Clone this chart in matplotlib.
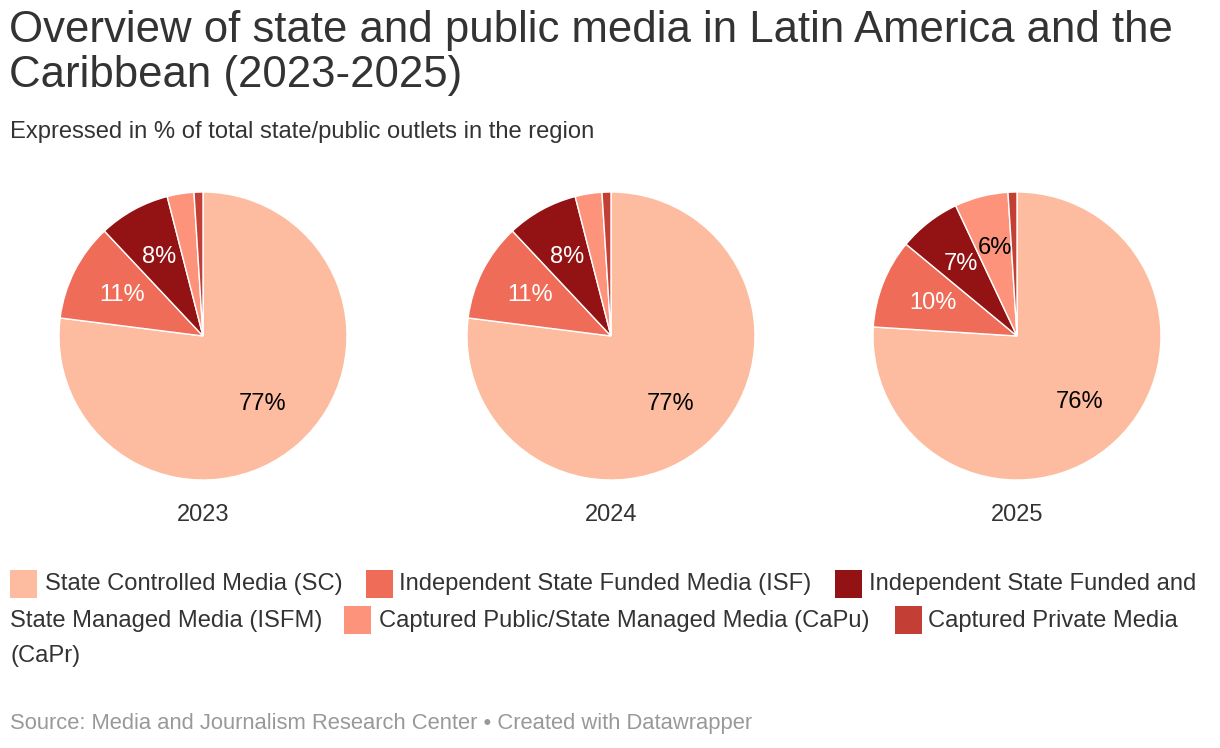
import matplotlib
matplotlib.use("Agg")
import matplotlib.pyplot as plt
from matplotlib.patches import Rectangle
import numpy as np

plt.rcParams['font.family'] = ['Liberation Sans', 'DejaVu Sans']

years = ["2023", "2024", "2025"]
categories = ["State Controlled Media (SC)",
              "Independent State Funded Media (ISF)",
              "Independent State Funded and State Managed Media (ISFM)",
              "Captured Public/State Managed Media (CaPu)",
              "Captured Private Media (CaPr)"]
values_2023 = [77, 11, 8, 3, 1]
values_2024 = [77, 11, 8, 3, 1]
values_2025 = [76, 10, 7, 6, 1]
all_values = [values_2023, values_2024, values_2025]

colors = ["#fdbc9f", "#ef6c58", "#931314", "#fd937a", "#c33f35"]
label_colors = ["#000000", "#ffffff", "#ffffff", "#000000", "#ffffff"]

W, H = 1220, 748
fig = plt.figure(figsize=(W / 100, H / 100), dpi=100)
fig.patch.set_facecolor("white")

def fx(x):
    return x / W

def fy(y):
    return 1 - y / H

# Title & subtitle
fig.text(fx(9), fy(42), "Overview of state and public media in Latin America and the",
         fontsize=31.5, color="#333333", va="baseline", ha="left")
fig.text(fx(9), fy(87), "Caribbean (2023-2025)",
         fontsize=31.5, color="#333333", va="baseline", ha="left")
fig.text(fx(10), fy(138), "Expressed in % of total state/public outlets in the region",
         fontsize=17.1, color="#333333", va="baseline", ha="left")

# Pies
centers = [203, 611, 1017]
cy = 336
r = 144
for cx, vals, yr in zip(centers, all_values, years):
    ax = fig.add_axes([fx(cx - r), fy(cy + r), 2 * r / W, 2 * r / H])
    wedges, _ = ax.pie(vals, colors=colors, startangle=90, counterclock=False,
                       radius=1.0,
                       wedgeprops=dict(edgecolor="white", linewidth=1.0))
    total = sum(vals)
    cum = 0
    for v, lc in zip(vals, label_colors):
        mid = cum + v / 2
        cum += v
        if v < 5:
            continue
        ang = np.deg2rad(90 - 360 * mid / total)
        d = 0.63
        ax.text(d * np.cos(ang), d * np.sin(ang), f"{v}%", color=lc,
                fontsize=17, ha="center", va="center")
    ax.set_xlim(-1, 1)
    ax.set_ylim(-1, 1)
    ax.set_aspect("equal")
    ax.axis("off")
    fig.text(fx(cx), fy(521), yr, fontsize=17, color="#333333",
             ha="center", va="baseline")

# Legend (flowing inline like the original)
legend_items = [
    # (square x, square top y, text x, text baseline y, text, colour index)
    (10, 570, 45, 590, categories[0], 0),
    (366, 570, 399, 590, categories[1], 1),
    (835, 570, 869, 590, "Independent State Funded and", 2),
    (None, None, 10, 627, "State Managed Media (ISFM)", None),
    (344, 606, 379, 627, categories[3], 3),
    (895, 606, 928, 627, "Captured Private Media", 4),
    (None, None, 10, 662, "(CaPr)", None),
]
for sx, sy, tx, ty, txt, ci in legend_items:
    if sx is not None:
        fig.patches.append(Rectangle((fx(sx), fy(sy + 28)), 27 / W, 28 / H,
                                     transform=fig.transFigure, facecolor=colors[ci],
                                     edgecolor="none"))
    fig.text(fx(tx), fy(ty), txt, fontsize=17.1, color="#333333",
             ha="left", va="baseline")

fig.text(fx(10), fy(729), "Source: Media and Journalism Research Center \u2022 Created with Datawrapper",
         fontsize=15.8, color="#999999", ha="left", va="baseline")

fig.savefig("out.png", dpi=100, facecolor="white")
